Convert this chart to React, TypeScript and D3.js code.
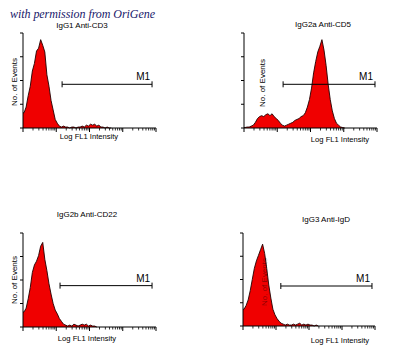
import React from "react";
import * as d3 from "d3";

// ---- data (histogram counts per log channel bin, 64 bins across 4 decades; % of full scale) ----
const BINS = 64;
const cd3Counts = [16, 22, 34, 44, 60, 68, 81, 84, 93, 87, 80, 56, 44, 29, 19, 9, 5, 2,
  1, 2, 1, 1, 0, 1, 1, 0, 1, 1, 2, 1, 3, 2, 4, 3, 4, 2, 3, 1, 1, 0, 1, 0, 0];
const cd5Counts = [0.5, 1, 1, 2, 3, 6, 10, 12, 13, 12, 14, 15, 13, 15, 12, 10, 8, 5, 3, 2,
  3, 4, 5, 6, 8, 9, 10, 12, 13, 16, 22, 30, 42, 58, 70, 80, 86, 93, 82, 66, 46, 30, 18, 10, 5, 3, 1, 0.5, 0];
const cd22Counts = [16, 20, 30, 42, 58, 66, 70, 76, 86, 90, 72, 60, 46, 35, 25, 18, 14, 9, 6, 3,
  2, 1, 2, 1, 3, 2, 1, 2, 3, 2, 3, 1, 2, 1, 1, 0];
const igdCounts = [18, 22, 28, 38, 50, 62, 70, 76, 82, 88, 78, 62, 44, 30, 18, 12, 8, 5, 3,
  2, 1, 2, 1, 1, 2, 1, 2, 3, 1, 2, 1, 2, 1, 1, 0, 1, 0];

const panelTitles = ["IgG1 Anti-CD3", "IgG2a Anti-CD5", "IgG2b Anti-CD22", "IgG3 Anti-IgD"];
const m1Start = [15, 15, 13, 14];
const m1End = [7600, 8700, 7600, 8100];
const m1Level = [46, 46, 44, 43];
const xDomain = [1, 10000];
const yTicks = [0, 25, 50, 75, 100];
const yLabel = "No. of Events";
const xLabel = "Log FL1 Intensity";
const gateLabel = "M1";
const credit = "with permission from OriGene";

const seriesList = [cd3Counts, cd5Counts, cd22Counts, igdCounts];

// ---- layout ----
const layouts = [
  { x0: 23, x1: 156, yTop: 33, yBot: 128, tx: 82, ty: 28, lx: 17, ly: 82, xlx: 89, xly: 139, ylOver: false },
  { x0: 244, x1: 377, yTop: 33, yBot: 128, tx: 323, ty: 27, lx: 265, ly: 83, xlx: 340, xly: 142, ylOver: false },
  { x0: 23, x1: 156, yTop: 233, yBot: 327, tx: 87, ty: 217, lx: 17, ly: 280, xlx: 87, xly: 341, ylOver: false },
  { x0: 243, x1: 375, yTop: 233, yBot: 326, tx: 326, ty: 222, lx: 267, ly: 282, xlx: 340, xly: 343, ylOver: true },
];

const FONT = "'Liberation Sans', Arial, sans-serif";

function Panel({ idx }: { idx: number }) {
  const L = layouts[idx];
  const data = seriesList[idx];
  const x = d3.scaleLog().domain(xDomain).range([L.x0, L.x1]);
  const y = d3.scaleLinear().domain([0, 100]).range([L.yBot, L.yTop]);
  const pts: [number, number][] = [[1, data[0]]];
  data.forEach((v, i) => pts.push([Math.pow(10, (4 * (i + 0.5)) / BINS), v]));
  const area = d3.area<[number, number]>()
    .x((d) => x(d[0]))
    .y0(L.yBot)
    .y1((d) => y(d[1]));
  const line = d3.line<[number, number]>()
    .x((d) => x(d[0]))
    .y((d) => y(d[1]));

  const majors = [1, 10, 100, 1000, 10000];
  const minors: number[] = [];
  for (let e = 0; e < 4; e++) for (let k = 2; k <= 9; k++) minors.push(k * Math.pow(10, e));

  const gx0 = x(m1Start[idx]);
  const gx1 = x(m1End[idx]);
  const gy = y(m1Level[idx]);

  const ylText = (
    <text
      transform={`translate(${L.lx},${L.ly}) rotate(-90)`}
      textAnchor="middle"
      fontSize={8}
      fontFamily={FONT}
      fill="#000"
      fillOpacity={L.ylOver ? 0.45 : 1}
    >
      {yLabel}
    </text>
  );

  return (
    <g>
      <text x={L.tx} y={L.ty} textAnchor="middle" fontSize={8} fontFamily={FONT} fill="#000">
        {panelTitles[idx]}
      </text>
      {!L.ylOver && ylText}
      <path d={area(pts) || ""} fill="#f00000" />
      <path d={line(pts) || ""} fill="none" stroke="#200000" strokeWidth={0.9} />
      {L.ylOver && ylText}
      <line x1={L.x0} x2={L.x0} y1={L.yTop} y2={L.yBot} stroke="#000" strokeWidth={1} />
      <line x1={L.x0} x2={L.x1} y1={L.yBot} y2={L.yBot} stroke="#000" strokeWidth={1} />
      {yTicks.map((t) => (
        <line key={"y" + t} x1={L.x0 - 3} x2={L.x0} y1={y(t)} y2={y(t)} stroke="#000" strokeWidth={1} />
      ))}
      {majors.map((t) => (
        <line key={"M" + t} x1={x(t)} x2={x(t)} y1={L.yBot} y2={L.yBot + 4} stroke="#000" strokeWidth={1} />
      ))}
      {minors.map((t) => (
        <line key={"m" + t} x1={x(t)} x2={x(t)} y1={L.yBot} y2={L.yBot + 2.5} stroke="#000" strokeWidth={0.8} />
      ))}
      <line x1={gx0} x2={gx1} y1={gy} y2={gy} stroke="#000" strokeWidth={1} />
      <line x1={gx0} x2={gx0} y1={gy - 3} y2={gy + 3} stroke="#000" strokeWidth={1} />
      <line x1={gx1} x2={gx1} y1={gy - 3} y2={gy + 3} stroke="#000" strokeWidth={1} />
      <text x={gx1 - 2} y={gy - 4} textAnchor="end" fontSize={10} fontFamily={FONT} fill="#000">
        {gateLabel}
      </text>
      <text x={L.xlx} y={L.xly} textAnchor="middle" fontSize={7.6} fontFamily={FONT} fill="#000">
        {xLabel}
      </text>
    </g>
  );
}

export default function App() {
  return (
    <svg
      width={411}
      height={359}
      viewBox="0 0 411 359"
      style={{ position: "absolute", left: 0, top: 0, background: "#fff" }}
    >
      <rect x={0} y={0} width={411} height={359} fill="#fff" />
      <text
        x={10}
        y={17.5}
        fontSize={12}
        fontStyle="italic"
        fontFamily="'Liberation Serif', 'DejaVu Serif', serif"
        fill="#18186a"
        textLength={145}
      >
        {credit}
      </text>
      {[0, 1, 2, 3].map((i) => (
        <Panel key={i} idx={i} />
      ))}
    </svg>
  );
}
